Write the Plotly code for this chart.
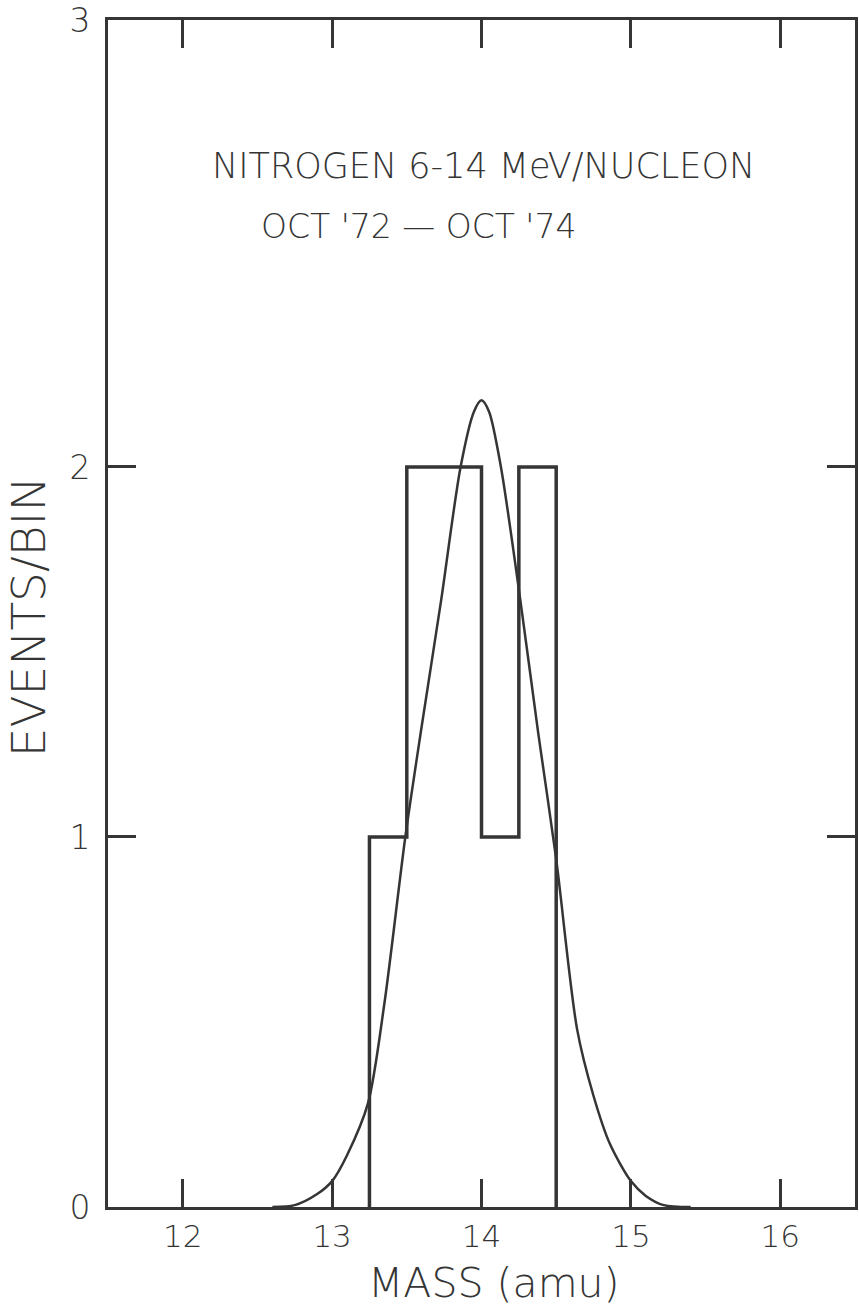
import plotly.graph_objects as go

# ---- data ----
bin_edges = [13.25, 13.5, 13.75, 14.0, 14.25, 14.5]
bin_counts = [1, 2, 2, 1, 2]

fit_x = [12.6, 12.75, 12.9, 13.0, 13.1, 13.24, 13.35, 13.49, 13.6, 13.73, 13.86, 13.95,
         14.0, 14.05, 14.13, 14.26, 14.38, 14.5, 14.64, 14.75, 14.86, 15.0, 15.1, 15.22, 15.4]
fit_y = [0.0, 0.005, 0.035, 0.07, 0.14, 0.28, 0.55, 1.0, 1.3, 1.64, 2.0, 2.15,
         2.18, 2.15, 2.0, 1.64, 1.28, 0.94, 0.48, 0.3, 0.17, 0.07, 0.03, 0.005, 0.0]

x_ticks = [12, 13, 14, 15, 16]
y_ticks = [0, 1, 2]
y_labels = ["0", "1", "2", "3"]

X_RANGE = [11.5, 16.5]
Y_TOP = 3.208
INK = "#353535"
FONT = "DejaVu Sans Light, DejaVu Sans, sans-serif"

# step outline of the histogram
hist_x = [bin_edges[0]] + bin_edges
hist_y = [0] + bin_counts + [0]

fig = go.Figure()
fig.add_trace(go.Scatter(x=hist_x, y=hist_y, mode="lines", line_shape="hv",
                         line=dict(color=INK, width=3.5), hoverinfo="skip"))
fig.add_trace(go.Scatter(x=fit_x, y=fit_y, mode="lines", line_shape="spline",
                         line=dict(color=INK, width=2.5, smoothing=0.8), hoverinfo="skip"))

fig.update_layout(
    width=859, height=1312,
    margin=dict(l=108, r=1, t=20, b=105),
    paper_bgcolor="white", plot_bgcolor="white",
    showlegend=False,
    font=dict(family=FONT, color=INK),
)
fig.update_xaxes(
    range=X_RANGE, tickvals=x_ticks, ticktext=[str(v) for v in x_ticks],
    ticks="inside", ticklen=28, tickwidth=2.5, tickcolor=INK,
    showline=True, linewidth=3, linecolor=INK, mirror="ticks",
    showgrid=False, zeroline=False,
    tickfont=dict(size=31, family=FONT, color=INK), ticklabelstandoff=0,
)
fig.update_yaxes(
    range=[0, Y_TOP], tickvals=y_ticks + [Y_TOP], ticktext=y_labels,
    ticks="inside", ticklen=28, tickwidth=2.5, tickcolor=INK,
    showline=True, linewidth=3, linecolor=INK, mirror="ticks",
    showgrid=False, zeroline=False,
    tickfont=dict(size=33, family=FONT, color=INK), ticklabelstandoff=8,
)

fig.add_annotation(text="NITROGEN 6-14 MeV/NUCLEON", x=485, y=166, xref="paper", yref="paper",
                   showarrow=False, font=dict(size=35, family=FONT, color=INK))
fig.add_annotation(text="OCT '72 \u2014 OCT '74", x=420, y=227, xref="paper", yref="paper",
                   showarrow=False, font=dict(size=33, family=FONT, color=INK))
fig.add_annotation(text="MASS (amu)", x=496, y=1283, xref="paper", yref="paper",
                   showarrow=False, font=dict(size=41, family=FONT, color=INK))
fig.add_annotation(text="EVENTS/BIN", x=28, y=617, xref="paper", yref="paper", textangle=-90,
                   showarrow=False, font=dict(size=47, family=FONT, color=INK))

# convert pixel anchors for annotations into paper coordinates
W, H = 859, 1312
L, R, T, B = 108, 1, 20, 105
pw, ph = W - L - R, H - T - B
for a in fig.layout.annotations:
    px, py = a.x, a.y
    a.x = (px - L) / pw
    a.y = (H - B - py) / ph
    a.xanchor = "center"
    a.yanchor = "middle"

fig.write_html("out.html")
